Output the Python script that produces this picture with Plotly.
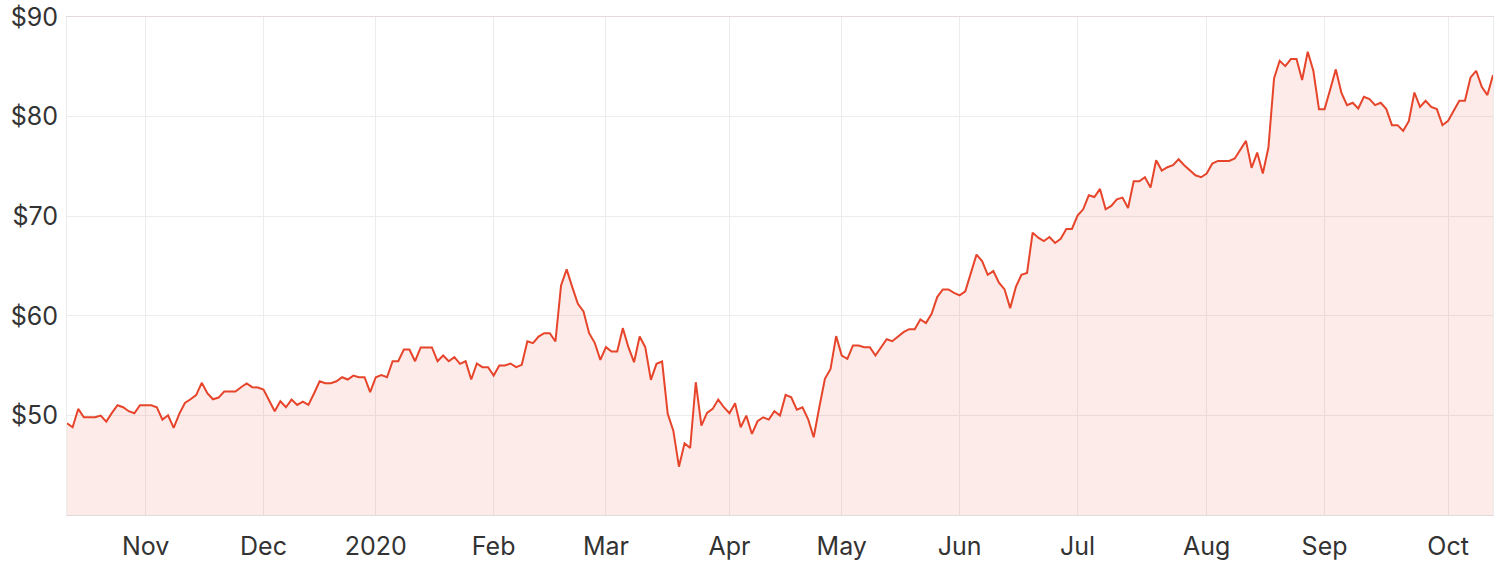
import plotly.graph_objects as go

# daily closing prices, one per trading session (mid Oct 2019 -> mid Oct 2020)
prices = [
    49.21, 48.81, 50.65, 49.81, 49.81, 49.81, 49.98, 49.38, 50.25, 51.02,
    50.82, 50.42, 50.22, 51.02, 51.02, 51.02, 50.82, 49.58, 50.01, 48.74,
    50.15, 51.25, 51.62, 52.03, 53.27, 52.23, 51.62, 51.79, 52.39, 52.39,
    52.39, 52.83, 53.20, 52.83, 52.80, 52.60, 51.55, 50.42, 51.42, 50.82,
    51.59, 51.05, 51.39, 51.05, 52.20, 53.43, 53.23, 53.23, 53.43, 53.83,
    53.60, 54.00, 53.83, 53.83, 52.33, 53.83, 54.04, 53.83, 55.44, 55.44,
    56.62, 56.62, 55.44, 56.82, 56.82, 56.82, 55.44, 56.01, 55.44, 55.85,
    55.18, 55.44, 53.60, 55.21, 54.84, 54.84, 54.00, 55.01, 55.01, 55.21,
    54.84, 55.08, 57.45, 57.25, 57.92, 58.26, 58.26, 57.42, 63.05, 64.66,
    62.88, 61.21, 60.44, 58.26, 57.29, 55.58, 56.85, 56.42, 56.42, 58.76,
    56.85, 55.34, 57.92, 56.85, 53.57, 55.18, 55.41, 50.15, 48.47, 44.85,
    47.20, 46.73, 53.33, 48.97, 50.25, 50.65, 51.59, 50.82, 50.22, 51.22,
    48.81, 49.98, 48.14, 49.41, 49.81, 49.58, 50.42, 49.98, 52.06, 51.82,
    50.58, 50.82, 49.64, 47.80, 50.82, 53.67, 54.67, 57.96, 56.01, 55.68,
    57.02, 57.02, 56.85, 56.85, 56.01, 56.85, 57.65, 57.45, 57.92, 58.36,
    58.66, 58.66, 59.63, 59.27, 60.20, 61.88, 62.65, 62.65, 62.31, 62.05,
    62.45, 64.29, 66.14, 65.50, 64.12, 64.49, 63.32, 62.65, 60.77, 62.88,
    64.12, 64.29, 68.35, 67.84, 67.51, 67.91, 67.31, 67.74, 68.72, 68.72,
    70.06, 70.69, 72.10, 71.93, 72.74, 70.69, 71.03, 71.70, 71.87, 70.83,
    73.51, 73.51, 73.91, 72.87, 75.62, 74.58, 74.92, 75.12, 75.72, 75.12,
    74.62, 74.11, 73.91, 74.28, 75.29, 75.55, 75.55, 75.55, 75.79, 76.63,
    77.56, 74.85, 76.39, 74.28, 76.89, 83.83, 85.61, 85.07, 85.78, 85.78,
    83.67, 86.51, 84.60, 80.75, 80.75, 82.73, 84.74, 82.39, 81.15, 81.39,
    80.82, 81.99, 81.75, 81.15, 81.39, 80.75, 79.14, 79.14, 78.57, 79.54,
    82.42, 80.98, 81.59, 80.98, 80.75, 79.14, 79.58, 80.58, 81.59, 81.59,
    83.93, 84.60, 83.00, 82.16, 84.17,
]

# first session of each month and its label
month_start_idx = [14, 35, 55, 76, 96, 118, 138, 159, 180, 203, 224, 246]
month_labels = ["Nov", "Dec", "2020", "Feb", "Mar", "Apr", "May", "Jun",
                "Jul", "Aug", "Sep", "Oct"]

price_ticks = [50, 60, 70, 80, 90]
price_labels = ["$50", "$60", "$70", "$80", "$90"]

sessions = list(range(len(prices)))

fig = go.Figure(go.Scatter(
    x=sessions,
    y=prices,
    mode="lines",
    line=dict(color="#e6452b", width=2),
    fill="tozeroy",
    fillcolor="rgba(230,69,43,0.11)",
))

grid = "#ececec"
fig.update_layout(
    width=1500,
    height=566,
    margin=dict(l=67, r=7, t=17, b=51),
    paper_bgcolor="white",
    plot_bgcolor="white",
    showlegend=False,
    font=dict(family="Inter, sans-serif", size=25, color="#333333"),
    xaxis=dict(
        range=[0, len(prices) - 1],
        tickvals=month_start_idx,
        ticktext=month_labels,
        showgrid=True,
        gridcolor=grid,
        gridwidth=1,
        zeroline=False,
        showline=True,
        linecolor="#e3dada",
        linewidth=1,
        mirror=True,
        ticks="",
        ticklabelstandoff=9,
        automargin=False,
    ),
    yaxis=dict(
        range=[40, 90],
        tickvals=price_ticks,
        ticktext=price_labels,
        showgrid=True,
        gridcolor=grid,
        gridwidth=1,
        zeroline=False,
        showline=True,
        linecolor=grid,
        linewidth=1,
        mirror=True,
        ticks="",
        ticklabelstandoff=3,
        ticklabeloverflow="allow",
        automargin=False,
    ),
)

# drop the browser's default body margin so the figure fills the window
fig.write_html(
    "out.html",
    config={"displayModeBar": False},
    post_script="document.body.style.margin = '0';",
)
